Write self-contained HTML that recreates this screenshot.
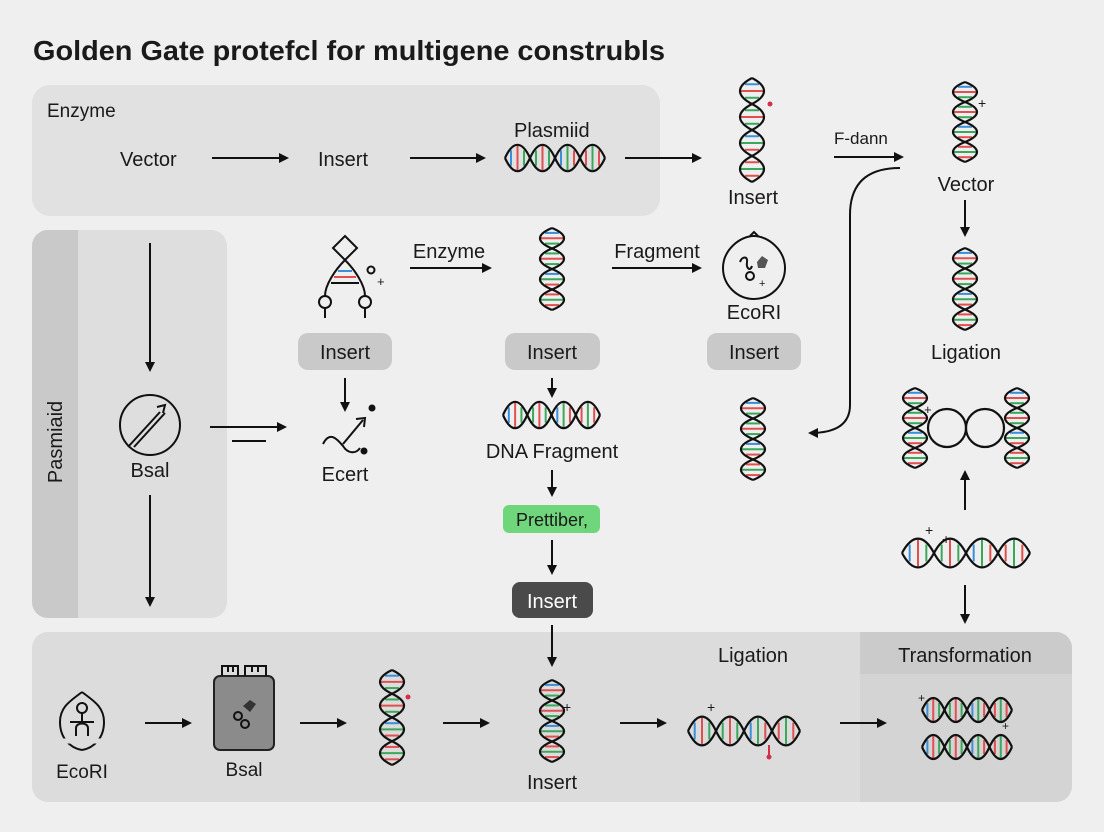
<!DOCTYPE html>
<html><head><meta charset="utf-8"><style>
html,body{margin:0;padding:0;background:#efefef;}
svg{display:block;font-family:"Liberation Sans",Arial,sans-serif;}
.s{fill:none;stroke:#111;stroke-width:2.2;vector-effect:non-scaling-stroke}
.r{stroke-width:2;vector-effect:non-scaling-stroke}
.a{stroke:#111;stroke-width:2;fill:none}
text{fill:#1a1a1a}
</style></head><body>
<svg width="1104" height="832" viewBox="0 0 1104 832" xmlns="http://www.w3.org/2000/svg">
<defs>
<marker id="ar" markerWidth="10" markerHeight="10" refX="8" refY="5" orient="auto" markerUnits="userSpaceOnUse">
<path d="M0,0 L10,5 L0,10 Z" fill="#111"/></marker>
<g id="h4">
<line class="r" x1="-7" y1="6" x2="7" y2="6" stroke="#3b8fd8"/>
<line class="r" x1="-11" y1="12.5" x2="11" y2="12.5" stroke="#e05050"/>
<line class="r" x1="-7" y1="19" x2="7" y2="19" stroke="#3aa85a"/>
<line class="r" x1="-7" y1="31" x2="7" y2="31" stroke="#3aa85a"/>
<line class="r" x1="-11" y1="37.5" x2="11" y2="37.5" stroke="#e05050"/>
<line class="r" x1="-7" y1="44" x2="7" y2="44" stroke="#3aa85a"/>
<line class="r" x1="-7" y1="56" x2="7" y2="56" stroke="#3b8fd8"/>
<line class="r" x1="-11" y1="62.5" x2="11" y2="62.5" stroke="#3aa85a"/>
<line class="r" x1="-7" y1="69" x2="7" y2="69" stroke="#e05050"/>
<line class="r" x1="-7" y1="81" x2="7" y2="81" stroke="#e05050"/>
<line class="r" x1="-11" y1="87.5" x2="11" y2="87.5" stroke="#3aa85a"/>
<line class="r" x1="-7" y1="94" x2="7" y2="94" stroke="#e05050"/>
<path class="s" d="M0,0 C16,8 16,17 0,25 C-16,33 -16,42 0,50 C16,58 16,67 0,75 C-16,83 -16,92 0,100"/>
<path class="s" d="M0,0 C-16,8 -16,17 0,25 C16,33 16,42 0,50 C-16,58 -16,67 0,75 C16,83 16,92 0,100"/>
</g>
</defs>
<rect width="1104" height="832" fill="#efefef"/>
<text x="33" y="60" font-size="28" font-weight="600" textLength="632" lengthAdjust="spacingAndGlyphs" fill="#111">Golden Gate protefcl for multigene construbls</text>

<!-- top panel -->
<rect x="32" y="85" width="628" height="131" rx="18" fill="#e1e1e1"/>
<text x="47" y="117" font-size="19">Enzyme</text>
<text x="120" y="166" font-size="20">Vector</text>
<line class="a" x1="212" y1="158" x2="287" y2="158" marker-end="url(#ar)"/>
<text x="318" y="166" font-size="20">Insert</text>
<line class="a" x1="410" y1="158" x2="484" y2="158" marker-end="url(#ar)"/>
<text x="514" y="137" font-size="20">Plasmiid</text>
<use href="#h4" transform="translate(505,158) rotate(-90) scale(1.1,1)"/>
<line class="a" x1="625" y1="158" x2="700" y2="158" marker-end="url(#ar)"/>
<use href="#h4" transform="translate(752,78) scale(1,1.04)"/>
<circle cx="770" cy="104" r="2.5" fill="#d2304a"/>
<text x="728" y="204" font-size="20">Insert</text>
<text x="834" y="144" font-size="17" fill="#555">F-dann</text>
<line class="a" x1="834" y1="157" x2="902" y2="157" marker-end="url(#ar)"/>
<path class="a" d="M900,168 Q850,168 850,215 L850,405 Q850,433 810,433" marker-end="url(#ar)"/>

<!-- right column -->
<use href="#h4" transform="translate(965,82) scale(1,0.8)"/>
<text x="978" y="108" font-size="14" fill="#d2304a">+</text>
<text x="966" y="191" font-size="20" text-anchor="middle">Vector</text>
<line class="a" x1="965" y1="200" x2="965" y2="235" marker-end="url(#ar)"/>
<use href="#h4" transform="translate(965,248) scale(1,0.82)"/>
<text x="966" y="359" font-size="20" text-anchor="middle">Ligation</text>
<use href="#h4" transform="translate(915,388) scale(1,0.8)"/>
<use href="#h4" transform="translate(1017,388) scale(1,0.8)"/>
<circle cx="947" cy="428" r="19" class="s"/>
<circle cx="985" cy="428" r="19" class="s"/>
<text x="924" y="414" font-size="13" fill="#d2304a">+</text>
<line class="a" x1="965" y1="510" x2="965" y2="472" marker-end="url(#ar)"/>
<use href="#h4" transform="translate(902,553) rotate(-90) scale(1.2,1.28)"/>
<text x="925" y="535" font-size="14" fill="#d2304a">+</text>
<text x="942" y="544" font-size="14" fill="#d2304a">+</text>
<line class="a" x1="965" y1="585" x2="965" y2="622" marker-end="url(#ar)"/>

<!-- left panel -->
<rect x="32" y="230" width="195" height="388" rx="16" fill="#dedede"/>
<path d="M48,230 H78 V618 H48 A16,16 0 0 1 32,602 V246 A16,16 0 0 1 48,230 Z" fill="#c9c9c9"/>
<text transform="translate(62,442) rotate(-90)" font-size="20" text-anchor="middle">Pasmiaid</text>
<line class="a" x1="150" y1="243" x2="150" y2="370" marker-end="url(#ar)"/>
<circle cx="150" cy="425" r="30" class="a"/>
<path class="a" d="M128,447 L160,412 M134,447 L165,413"/>
<path d="M157,407 L165,405 L163,413" class="a"/>
<text x="150" y="477" font-size="20" text-anchor="middle">Bsal</text>
<line class="a" x1="150" y1="495" x2="150" y2="605" marker-end="url(#ar)"/>
<line class="a" x1="210" y1="427" x2="285" y2="427" marker-end="url(#ar)"/>
<line class="a" x1="232" y1="441" x2="266" y2="441"/>

<!-- col 2 -->
<path class="a" d="M345,236 L357,248 L345,260 L333,248 Z"/>
<path class="a" d="M345,260 C335,270 325,285 325,296 M345,260 C355,270 365,285 365,296"/>
<line x1="338" y1="271" x2="352" y2="271" stroke="#3b8fd8" stroke-width="2"/>
<line x1="334" y1="277" x2="356" y2="277" stroke="#e05050" stroke-width="2"/>
<line x1="331" y1="283" x2="359" y2="283" stroke="#111" stroke-width="2"/>
<circle cx="325" cy="302" r="6" class="a" fill="#efefef"/>
<circle cx="365" cy="302" r="6" class="a" fill="#efefef"/>
<line class="a" x1="325" y1="308" x2="325" y2="318"/><line class="a" x1="365" y1="308" x2="365" y2="318"/>
<circle cx="371" cy="270" r="3.5" class="a" stroke-width="1.5"/>
<text x="377" y="286" font-size="13">+</text>
<rect x="298" y="333" width="94" height="37" rx="10" fill="#c9c9c9"/>
<text x="345" y="359" font-size="20" text-anchor="middle">Insert</text>
<line class="a" x1="345" y1="378" x2="345" y2="410" marker-end="url(#ar)"/>
<path class="a" d="M323,444 C330,430 338,440 343,446 C348,454 356,454 360,448"/>
<line class="a" x1="343" y1="444" x2="363" y2="420"/>
<path class="a" d="M356,419 L365,418 L364,427"/>
<circle cx="372" cy="408" r="3.5" fill="#111"/><circle cx="364" cy="451" r="3.5" fill="#111"/>
<text x="345" y="481" font-size="20" text-anchor="middle">Ecert</text>

<text x="449" y="258" font-size="20" text-anchor="middle">Enzyme</text>
<line class="a" x1="410" y1="268" x2="490" y2="268" marker-end="url(#ar)"/>
<use href="#h4" transform="translate(552,228) scale(1,0.82)"/>
<rect x="505" y="333" width="95" height="37" rx="10" fill="#c9c9c9"/>
<text x="552" y="359" font-size="20" text-anchor="middle">Insert</text>
<line class="a" x1="552" y1="378" x2="552" y2="396" marker-end="url(#ar)"/>
<use href="#h4" transform="translate(503,415) rotate(-90) scale(1.1,0.97)"/>
<text x="552" y="458" font-size="20" text-anchor="middle">DNA Fragment</text>
<line class="a" x1="552" y1="470" x2="552" y2="495" marker-end="url(#ar)"/>
<rect x="503" y="505" width="97" height="28" rx="6" fill="#6fd67c"/>
<text x="552" y="526" font-size="18" text-anchor="middle">Prettiber,</text>
<line class="a" x1="552" y1="540" x2="552" y2="573" marker-end="url(#ar)"/>

<text x="657" y="258" font-size="20" text-anchor="middle">Fragment</text>
<line class="a" x1="612" y1="268" x2="700" y2="268" marker-end="url(#ar)"/>
<path class="a" d="M754,236 C740,236 723,250 723,268 C723,285 737,299 754,299 C771,299 785,285 785,268 C785,250 768,236 754,236 Z M750,236 L754,232 L758,236"/>
<path class="a" stroke-width="1.6" d="M740,262 C742,256 748,256 747,262 C746,268 750,272 752,266"/>
<circle cx="750" cy="276" r="4" class="a" stroke-width="1.6"/>
<path d="M757,262 L762,256 L768,260 L765,268 L758,268 Z" fill="#555"/>
<text x="759" y="287" font-size="11">+</text>
<text x="754" y="319" font-size="20" text-anchor="middle">EcoRI</text>
<rect x="707" y="333" width="94" height="37" rx="10" fill="#c9c9c9"/>
<text x="754" y="359" font-size="20" text-anchor="middle">Insert</text>
<use href="#h4" transform="translate(753,398) scale(1,0.82)"/>

<!-- bottom panel -->
<rect x="32" y="632" width="1040" height="170" rx="16" fill="#dcdcdc"/>
<path d="M860,632 H1056 A16,16 0 0 1 1072,648 V786 A16,16 0 0 1 1056,802 H860 Z" fill="#d4d4d4"/>
<path d="M860,632 H1056 A16,16 0 0 1 1072,648 V674 H860 Z" fill="#cbcbcb"/>
<rect x="512" y="582" width="81" height="36" rx="8" fill="#4a4a4a"/>
<text x="552" y="608" font-size="20" text-anchor="middle" style="fill:#fff">Insert</text>
<line class="a" x1="552" y1="625" x2="552" y2="665" marker-end="url(#ar)"/>
<text x="753" y="662" font-size="20" text-anchor="middle">Ligation</text>
<text x="965" y="662" font-size="20" text-anchor="middle">Transformation</text>

<path class="a" d="M82,692 C72,700 60,706 60,722 C60,738 70,748 82,750 M82,692 C92,700 104,706 104,722 C104,738 94,748 82,750"/>
<line x1="58" y1="741" x2="106" y2="741" stroke="#dcdcdc" stroke-width="5"/>
<circle cx="82" cy="708" r="5" class="a"/>
<path class="a" d="M82,713 V722 M70,722 H94 M76,736 V728 C76,722 88,722 88,728 V736"/>
<text x="82" y="778" font-size="19" text-anchor="middle">EcoRI</text>
<line class="a" x1="145" y1="723" x2="190" y2="723" marker-end="url(#ar)"/>
<rect x="214" y="676" width="60" height="74" rx="6" fill="#8b8b8b" stroke="#222" stroke-width="2"/>
<path class="a" d="M222,676 V666 H238 V676 M245,676 V666 H266 V676 M228,666 V672 M233,666 V672 M252,666 V672 M258,666 V672"/>
<circle cx="238" cy="716" r="4" class="a" stroke-width="1.5"/><circle cx="245" cy="724" r="4" class="a" stroke-width="1.5"/>
<path d="M243,706 L250,700 L256,704 L250,712 Z" fill="#333"/>
<text x="244" y="776" font-size="19" text-anchor="middle">Bsal</text>
<line class="a" x1="300" y1="723" x2="345" y2="723" marker-end="url(#ar)"/>
<use href="#h4" transform="translate(392,670) scale(1,0.95)"/>
<circle cx="408" cy="697" r="2.5" fill="#d2304a"/>
<line class="a" x1="443" y1="723" x2="488" y2="723" marker-end="url(#ar)"/>
<use href="#h4" transform="translate(552,680) scale(1,0.82)"/>
<text x="563" y="712" font-size="14" fill="#d2304a">+</text>
<text x="552" y="789" font-size="20" text-anchor="middle">Insert</text>
<line class="a" x1="620" y1="723" x2="665" y2="723" marker-end="url(#ar)"/>
<use href="#h4" transform="translate(688,731) rotate(-90) scale(1.2,1.12)"/>
<text x="707" y="712" font-size="14" fill="#d2304a">+</text>
<line x1="769" y1="745" x2="769" y2="755" stroke="#d2304a" stroke-width="2"/><circle cx="769" cy="757" r="2.5" fill="#d2304a"/>
<line class="a" x1="840" y1="723" x2="885" y2="723" marker-end="url(#ar)"/>
<use href="#h4" transform="translate(922,710) rotate(-90) scale(1,0.9)"/>
<use href="#h4" transform="translate(922,747) rotate(-90) scale(1,0.9)"/>
<text x="918" y="702" font-size="12" fill="#d2304a">+</text>
<text x="1002" y="730" font-size="12" fill="#d2304a">+</text>
</svg>
</body></html>
